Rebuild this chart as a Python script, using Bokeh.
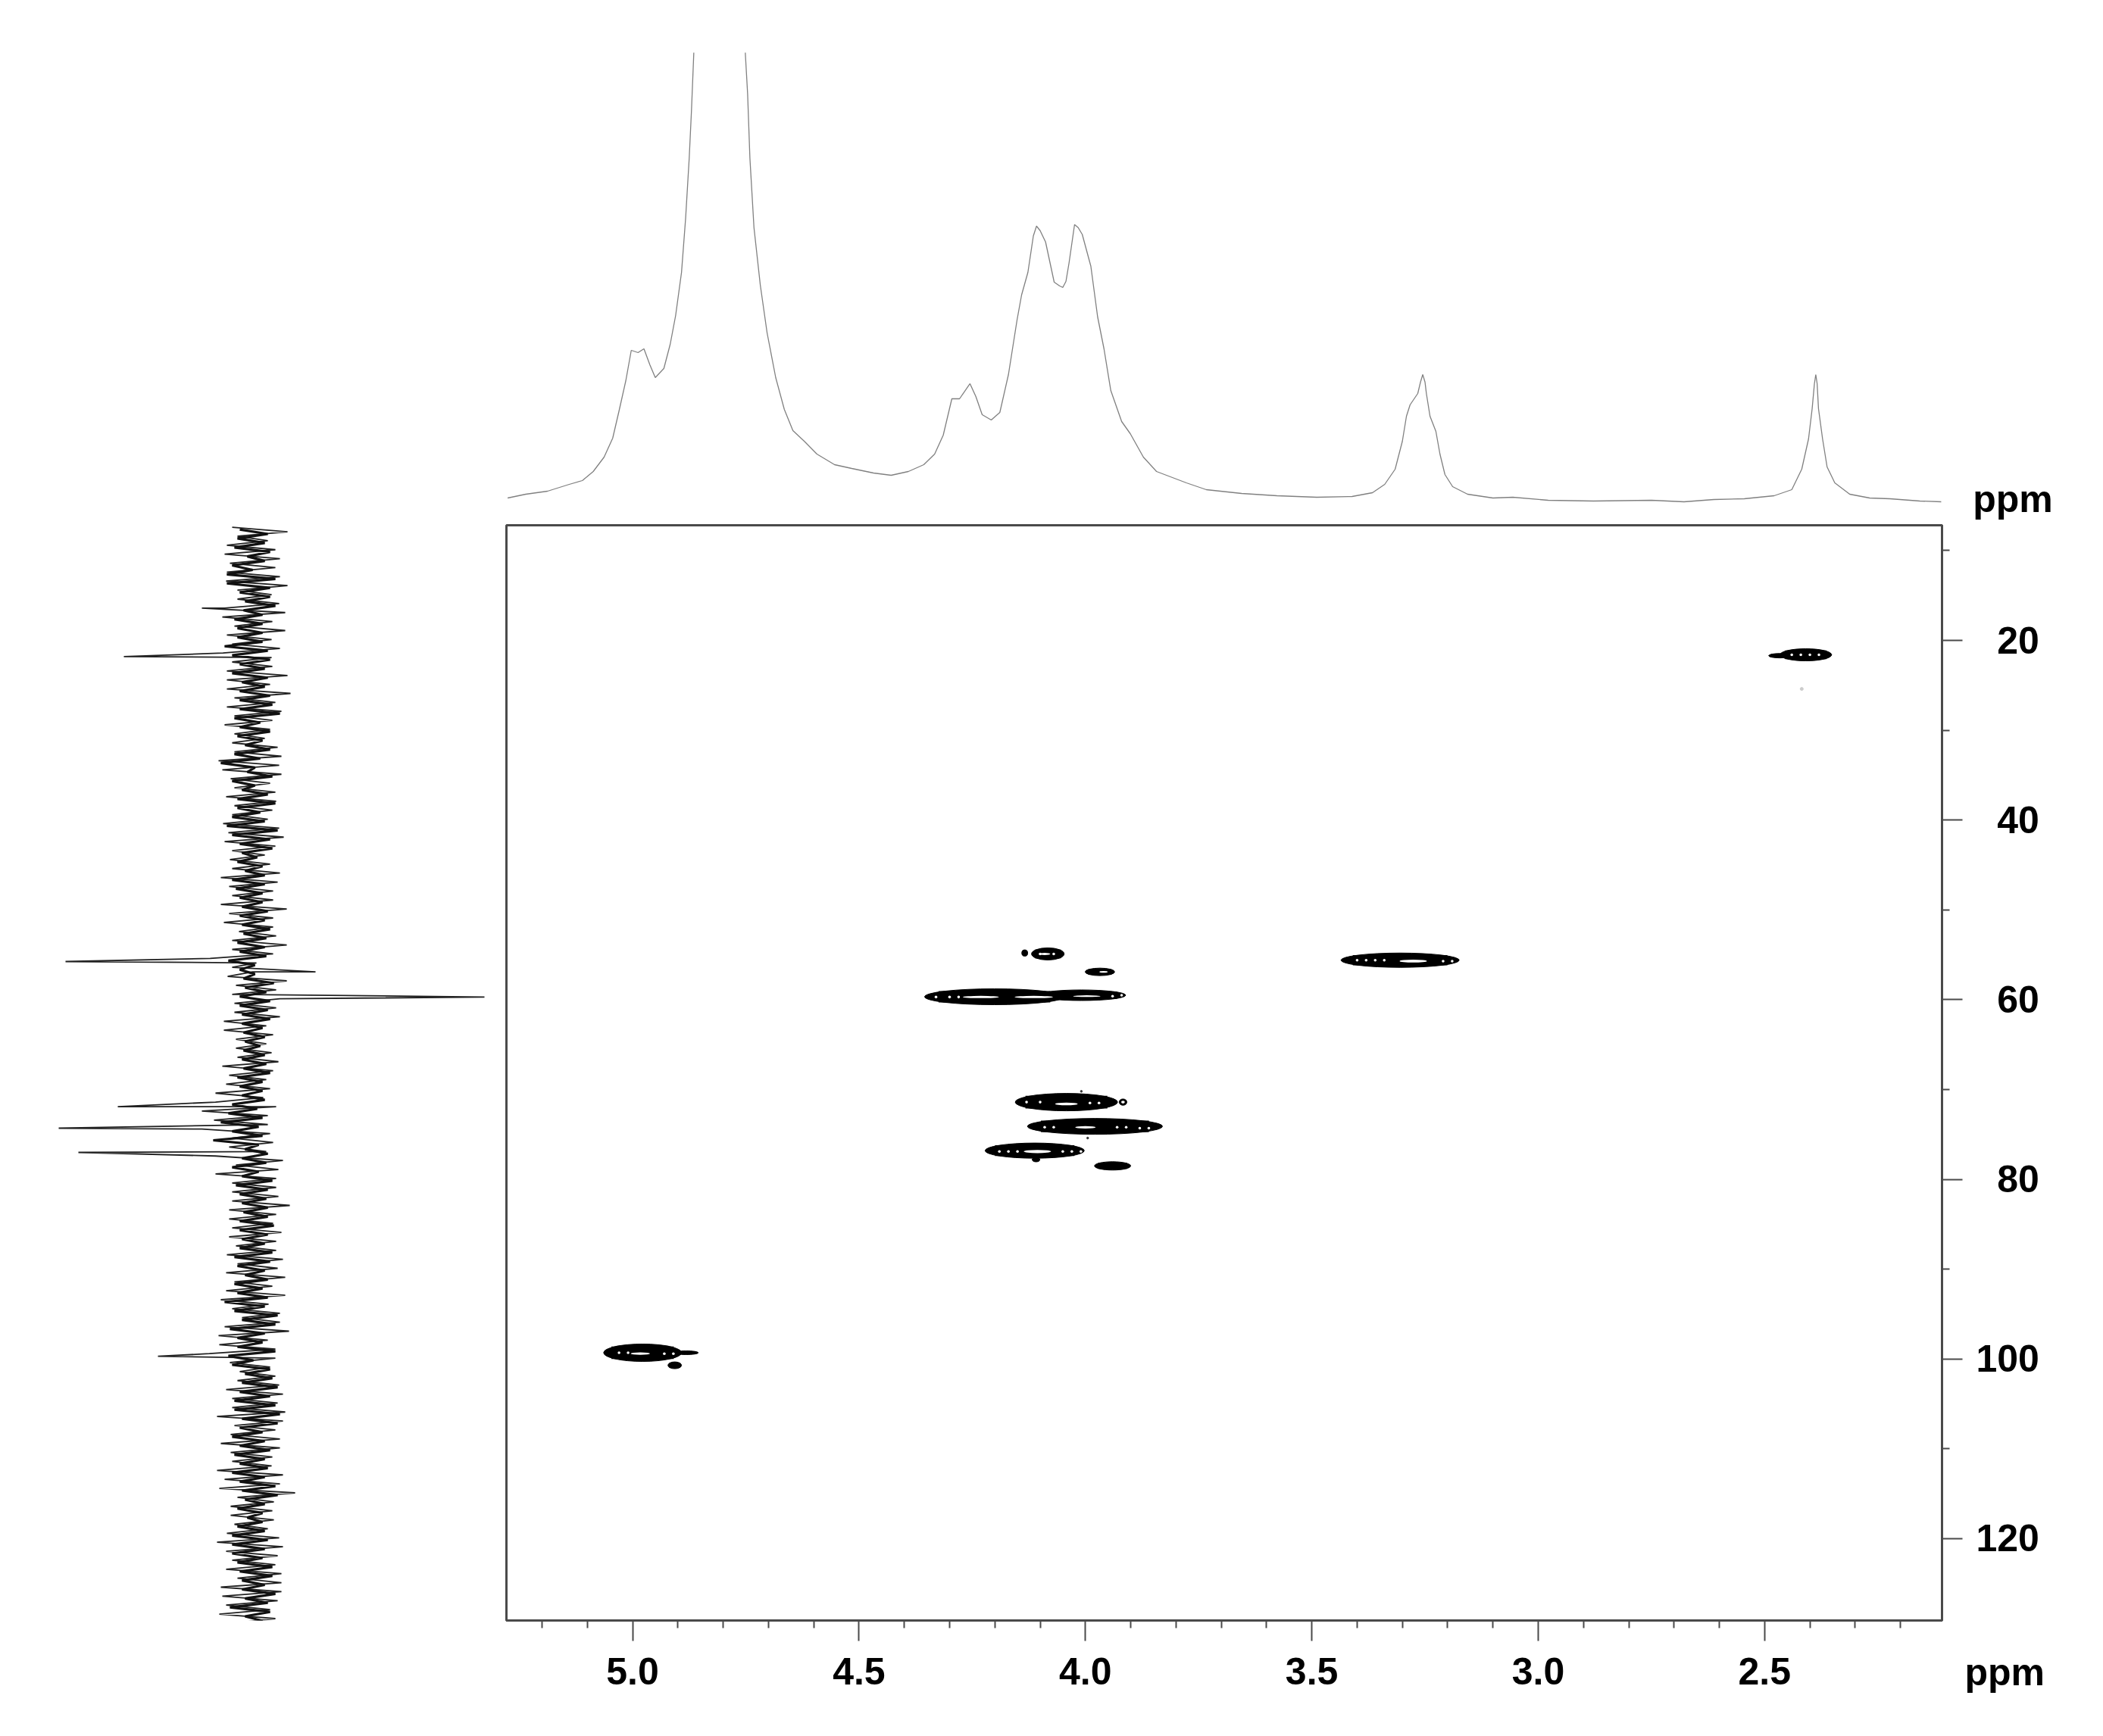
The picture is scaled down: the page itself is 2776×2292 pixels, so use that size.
from bokeh.plotting import figure
from bokeh.models import Range1d, FixedTicker, PrintfTickFormatter, Label, Spacer
from bokeh.layouts import column, row
from bokeh.embed import file_html
from bokeh.resources import INLINE
import numpy as np

FONT = "Liberation Sans"

# --- 1H projection (top) -------------------------------------------------
h_ppm = [5.276,5.236,5.188,5.140,5.111,5.087,5.063,5.044,5.030,5.015,5.003,4.988,4.975,4.962,4.950,4.931,4.917,4.905,
         4.892,4.883,4.875,4.870,4.865,4.855,4.810,4.757,4.751,4.746,4.741,4.732,4.718,4.703,4.684,4.665,4.646,4.621,
         4.593,4.554,4.516,4.468,4.429,4.391,4.357,4.333,4.314,4.295,4.278,4.255,4.242,4.228,4.208,4.189,4.170,4.151,
         4.141,4.127,4.115,4.108,4.100,4.088,4.069,4.057,4.050,4.043,4.036,4.024,4.016,4.007,3.988,3.973,3.959,3.944,3.920,3.901,3.872,3.843,
         3.821,3.777,3.733,3.655,3.577,3.489,3.411,3.366,3.339,3.316,3.300,3.291,3.283,3.266,3.260,3.255,3.250,3.247,3.239,3.226,
         3.217,3.206,3.189,3.156,3.100,3.056,2.978,2.878,2.750,2.678,2.612,2.545,2.479,2.440,2.418,2.403,2.395,2.390,2.387,
         2.384,2.381,2.372,2.362,2.345,2.312,2.268,2.223,2.157,2.110]
h_int = [-1,4,8,17,22,34,53,78,114,154,194,191,196,175,158,170,202,240,
         297,368,448,511,585,760,1300,760,585,532,448,356,280,217,158,116,88,74,
         57,43,38,32,29,34,43,57,82,130,130,150,133,109,102,112,162,234,
         267,297,345,358,352,337,284,279,277,285,310,360,356,347,305,238,196,141,100,84,53,34,
         29,19,10,5,2,0,1,6,17,37,74,107,122,137,152,162,152,137,107,87,
         57,30,14,4,-1,0,-4,-5,-4,-6,-3,-2,2,10,37,77,117,150,162,
         150,117,77,40,19,4,-1,-2,-5,-6]

# --- 13C projection (left): one left and one right excursion per ppm row ---
c_first = 7.4
c_left = [25,18,32,35,28,32,33,18,18,35,38,22,32,25,37,25,32,32,32,22,
          32,22,35,22,25,22,43,38,27,22,33,22,25,37,30,35,25,28,25,40,
          29,25,40,29,36,16,25,25,54,25,31,20,25,22,22,36,36,20,20,18,38,29,33,47,47,65,49,65,25,29,47,20,47,25,25,25,29,29,25,29,20,
          32,18,33,22,33,40,25,12,35,43,42,55,28,15,18,33,25,25,45,22,27,
          40,27,25,45,35,42,18,27,27,22,32,45,33,25,33,18,40,38,33,42,23]
c_right = [48,22,32,38,32,38,48,27,37,45,28,45,27,38,27,28,48,25,52,32,
           40,28,25,18,35,40,37,40,25,32,33,28,22,37,43,32,18,25,38,35,
           29,29,47,29,29,33,47,29,7,2,47,33,38,33,38,20,29,20,27,36,29,20,25,16,33,22,22,25,29,20,42,36,33,33,36,51,33,29,40,33,33,
           42,35,45,28,45,23,38,38,50,22,32,32,25,32,37,42,35,45,42,32,38,
           38,28,27,42,38,58,30,28,30,22,37,42,35,32,40,40,40,35,25,32,45]
# dense dark core of the noise band
core_left = [15,18,22,5,25,32,32,15,8,10,22,18,18,35,25,15,25,12,15,15,
             15,22,15,18,8,22,40,5,25,12,18,18,25,32,25,15,12,18,8,25,
             20,15,12,15,12,10,18,15,30,15,10,8,15,15,12,12,10,8,10,12,10,18,15,12,25,30,40,25,50,8,12,25,12,20,15,12,10,15,15,12,15,
             22,18,8,22,18,35,22,12,28,18,18,30,25,8,12,15,22,22,12,15,25,
             15,22,15,25,15,12,8,18,5,18,25,25,25,18,15,12,12,8,28,8,22]
core_right = [22,18,25,18,2,32,25,25,32,15,15,15,15,22,25,18,22,18,25,28,
              38,12,25,15,25,12,5,28,5,22,32,12,18,35,25,28,8,15,18,18,
              15,15,22,18,25,20,18,20,5,5,30,20,25,22,25,15,18,12,18,20,25,15,15,18,8,15,10,15,10,22,20,10,28,22,20,22,22,30,22,18,28,
              25,18,22,15,22,18,35,32,18,15,32,3,25,28,35,25,32,38,35,15,18,
              25,18,22,18,32,35,18,15,15,18,22,18,15,28,28,18,32,22,25,15,32]
spike_c = [16.4,21.8,55.75,56.9,59.7,71.9,74.3,77.0,99.7]
spike_int = [65,168,245,-85,-308,176,254,228,123]

# --- 2D cross peaks: solid contour bodies ---------------------------------
peak_h = [4.083,4.134,3.968,4.201,4.009,3.305,4.042,3.917,3.979,4.112,4.109,3.940,2.409,2.466,4.978,4.882,4.907]
peak_c = [54.9,54.8,56.9,59.67,59.5,55.6,71.4,71.4,74.1,76.8,77.8,78.5,21.6,21.7,99.3,99.3,100.7]
peak_dh = [.072,.013,.065,.308,.196,.261,.226,.017,.298,.219,.017,.08,.114,.05,.172,.054,.03]
peak_dc = [1.35,.7,.84,1.77,1.18,1.6,1.94,.7,1.77,1.69,.5,.93,1.35,.5,1.94,.42,.76]
# open interiors of the contours
hole_h = [4.231,4.114,3.997,3.276,4.042,4.0,4.106,4.983,4.09,3.96,3.917]
hole_c = [59.7,59.7,59.6,55.7,71.6,74.2,76.9,99.4,54.9,56.9,71.4]
hole_dh = [.08,.085,.06,.06,.05,.045,.06,.042,.025,.018,.008]
hole_dc = [.25,.25,.18,.32,.3,.28,.35,.26,.25,.18,.3]
# tiny openings along the ridges
dot_h = [4.33,4.30,4.28,3.94,3.92,3.90,3.40,3.38,3.36,3.34,3.21,3.19,4.09,4.07,3.93,3.91,3.88,3.86,
         4.13,4.10,3.99,3.97,4.19,4.17,4.15,4.05,4.03,4.01,5.03,5.01,4.93,4.91,2.44,2.42,2.40,2.38,4.10,4.07]
dot_c = [59.7,59.7,59.7,59.6,59.5,59.5,55.6,55.6,55.6,55.6,55.7,55.7,74.2,74.2,74.2,74.2,74.3,74.3,
         71.4,71.4,71.5,71.5,76.9,76.9,76.9,76.9,76.9,76.9,99.3,99.3,99.4,99.4,21.6,21.6,21.6,21.6,54.9,54.9]
speck_h = [4.009,3.995]
speck_c = [70.2,75.4]
faint_h = [2.418]
faint_c = [25.4]

x_ticks = [5.0,4.5,4.0,3.5,3.0,2.5]
x_minor = [5.2,5.1,4.9,4.8,4.7,4.6,4.4,4.3,4.2,4.1,3.9,3.8,3.7,3.6,3.4,3.3,3.2,3.1,2.9,2.8,2.7,2.6,2.4,2.3,2.2]
y_ticks = [20,40,60,80,100,120]
y_minor = [10,30,50,70,90,110]
y_labels = {20:"\u00a0\u00a020", 40:"\u00a0\u00a040", 60:"\u00a0\u00a060", 80:"\u00a0\u00a080", 100:"100", 120:"120"}
unit = "ppm"

X_RANGE = (5.2787, 2.1082)
Y_RANGE = (129.11, 7.18)

# main
p = figure(width=2104, height=1595, output_backend="svg", toolbar_location=None,
           x_range=Range1d(*X_RANGE), y_range=Range1d(*Y_RANGE),
           x_axis_location="below", y_axis_location="right",
           min_border_left=5, min_border_right=204, min_border_top=5, min_border_bottom=144)
p.grid.visible = False
p.outline_line_color = "#4a4a4a"
p.outline_line_width = 3
p.ellipse(peak_h, peak_c, width=peak_dh, height=peak_dc, fill_color="black", line_color="black", line_width=1)
p.rect(peak_h, peak_c, width=[w * 0.8 for w in peak_dh], height=[h * 0.72 for h in peak_dc],
       fill_color="black", line_color=None)
p.ellipse(hole_h, hole_c, width=hole_dh, height=hole_dc, fill_color="white", line_color=None)
p.ellipse(dot_h, dot_c, width=0.006, height=0.3, fill_color="white", line_color=None)
p.scatter(speck_h, speck_c, size=2.5, color="#333333")
p.scatter(faint_h, faint_c, size=4, color="#cccccc")
for ax, tk, mn in ((p.xaxis[0], x_ticks, x_minor), (p.yaxis[0], y_ticks, y_minor)):
    ax.ticker = FixedTicker(ticks=tk, minor_ticks=mn)
    ax.axis_line_color = "#4a4a4a"; ax.axis_line_width = 3
    ax.major_tick_line_color = "#4a4a4a"; ax.major_tick_line_width = 2
    ax.minor_tick_line_color = "#4a4a4a"; ax.minor_tick_line_width = 2
    ax.major_tick_out = 27; ax.major_tick_in = 0
    ax.minor_tick_out = 10; ax.minor_tick_in = 0
    ax.major_label_text_font = FONT
    ax.major_label_text_font_style = "bold"
    ax.major_label_text_font_size = "50px"
    ax.major_label_text_color = "black"
p.xaxis[0].formatter = PrintfTickFormatter(format="%.1f")
p.xaxis[0].major_label_standoff = 22
p.yaxis[0].major_label_standoff = 18
p.yaxis[0].major_label_overrides = y_labels
p.add_layout(Label(x=2.058, y=134.85, text=unit, text_font=FONT, text_font_style="bold",
                   text_font_size="50px", text_color="black", text_baseline="alphabetic"), "below")

# top projection
t = figure(width=2104, height=688, output_backend="svg", toolbar_location=None,
           x_range=Range1d(*X_RANGE), y_range=Range1d(-32, 587),
           x_axis_location=None, y_axis_location=None,
           min_border_left=5, min_border_right=204, min_border_top=69, min_border_bottom=0)
t.grid.visible = False
t.outline_line_color = None
t.line(h_ppm, h_int, line_color="#808080", line_width=1.3)
t.add_layout(Label(x=2.04, y=-2, text=unit, text_font=FONT, text_font_style="bold",
                   text_font_size="50px", text_color="black", text_baseline="alphabetic"), "right")

# left projection
sc, si = [], []
for i, (a, b) in enumerate(zip(c_left, c_right)):
    sc += [c_first + i, c_first + i + 0.5]
    si += [a, -b]
sc = np.array(sc + spike_c); si = np.array(si + spike_int)
order = np.argsort(sc)
kc, ki = [], []
for i, (a, b) in enumerate(zip(core_left, core_right)):
    kc += [c_first + i + 0.25, c_first + i + 0.75]
    ki += [a, -b]
l = figure(width=663, height=1595, output_backend="svg", toolbar_location=None,
           x_range=Range1d(331, -332), y_range=Range1d(*Y_RANGE),
           x_axis_location=None, y_axis_location=None,
           min_border_left=0, min_border_right=0, min_border_top=5, min_border_bottom=144)
l.grid.visible = False
l.outline_line_color = None
l.line(si[order], sc[order], line_color="#222222", line_width=1.8)
l.line(ki, kc, line_color="#111111", line_width=3.2)

page = column(row(Spacer(width=663, height=688), t, spacing=0), row(l, p, spacing=0), spacing=0)
open("out.html", "w").write(file_html(page, INLINE))
